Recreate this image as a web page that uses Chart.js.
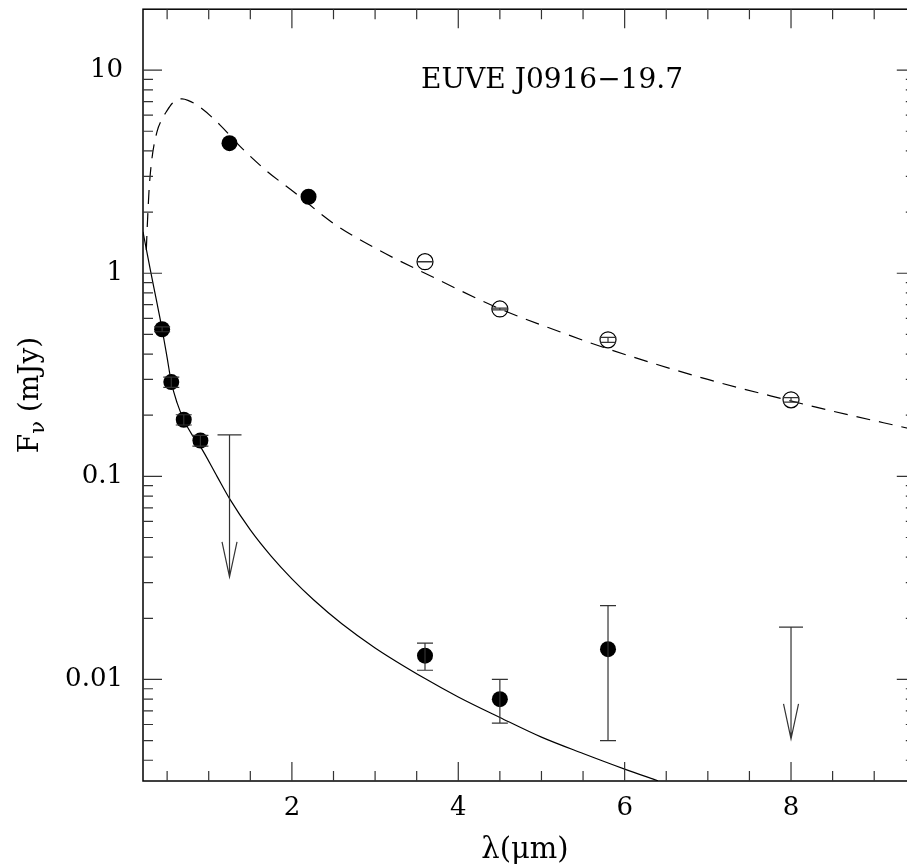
<!DOCTYPE html>
<html><head><meta charset="utf-8">
<script src="https://cdn.jsdelivr.net/npm/chart.js@4"></script>
<style>html,body{margin:0;padding:0;background:#fff;overflow:hidden}#wrap{width:907px;height:867px;overflow:hidden;position:relative}canvas{display:block}</style>
</head><body><div id="wrap"><canvas id="c" width="925" height="867"></canvas></div>
<script>
// ---- axis ticks ----
const xTickValues = [2, 4, 6, 8];
const xTickLabels = ['2', '4', '6', '8'];
const yTickValues = [0.01, 0.1, 1, 10];
const yTickLabels = ['0.01', '0.1', '1', '10'];

// ---- stellar photometry (filled circles, lower) ----
const starX = [0.44, 0.55, 0.70, 0.90, 3.6, 4.5, 5.8];
const starY = [0.53, 0.291, 0.190, 0.150, 0.0131, 0.0080, 0.0141];
const starErrLo = [0.515, 0.274, 0.179, 0.141, 0.0111, 0.0061, 0.0050];
const starErrHi = [0.545, 0.308, 0.201, 0.159, 0.0151, 0.0100, 0.0231];

// ---- upper limits (arrows) ----
const limX = [1.25, 8.0];
const limTop = [0.160, 0.0181];
const limTip = [0.032, 0.0051];

// ---- companion photometry (filled circles, upper) ----
const compX = [1.25, 2.2];
const compY = [4.37, 2.38];

// ---- IRAC photometry (open circles, upper) ----
const iracX = [3.6, 4.5, 5.8, 8.0];
const iracY = [1.14, 0.667, 0.470, 0.238];
const iracErrLo = [1.138, 0.660, 0.457, 0.232];
const iracErrHi = [1.142, 0.674, 0.483, 0.244];

// ---- solid model curve (photosphere) ----
const photX = [0.21, 0.30, 0.37, 0.44, 0.50, 0.55, 0.62, 0.70, 0.80, 0.90, 1.10, 1.256, 1.50, 1.75, 2.00, 2.26, 2.60, 3.00, 3.60, 4.00, 4.50, 5.00, 5.50, 6.00, 6.40];
const photY = [1.60, 1.03, 0.741, 0.530, 0.384, 0.291, 0.230, 0.190, 0.160, 0.140, 0.100, 0.0770, 0.0545, 0.0405, 0.0313, 0.0247, 0.0188, 0.0143, 0.0101, 0.0082, 0.0065, 0.0052, 0.00432, 0.00362, 0.00317];

// ---- dashed model curve ----
const bbX = [0.25, 0.257, 0.269, 0.284, 0.317, 0.377, 0.44, 0.497, 0.56, 0.62, 0.68, 0.75, 0.90, 1.14, 1.38, 1.70, 2.02, 2.50, 3.06, 3.60, 4.50, 5.22, 5.80, 7.00, 8.00, 8.30, 9.50];
const bbY = [1.30, 1.55, 1.99, 2.61, 3.66, 4.95, 5.75, 6.30, 6.85, 7.15, 7.22, 7.10, 6.55, 5.35, 4.20, 3.18, 2.52, 1.76, 1.29, 1.00, 0.668, 0.515, 0.424, 0.300, 0.235, 0.219, 0.169];

const titleText = 'EUVE J0916\u221219.7';
const xTitle = '\u03bb(\u03bcm)';

const FONT = '"DejaVu Serif", "Liberation Serif", serif';
const zip = (xs, ys) => xs.map((x, i) => ({x: x, y: ys[i]}));

const decorPlugin = {
  id: 'decor',
  afterDatasetsDraw(chart) {
    const ctx = chart.ctx, xs = chart.scales.x, ys = chart.scales.y;
    ctx.save();
    ctx.strokeStyle = '#333'; ctx.lineWidth = 1.2;
    const bar = (x, lo, hi, cw) => {
      const px = xs.getPixelForValue(x), p1 = ys.getPixelForValue(lo), p2 = ys.getPixelForValue(hi);
      ctx.beginPath();
      ctx.moveTo(px, p1); ctx.lineTo(px, p2);
      ctx.moveTo(px - cw, p1); ctx.lineTo(px + cw, p1);
      ctx.moveTo(px - cw, p2); ctx.lineTo(px + cw, p2);
      ctx.stroke();
    };
    starX.forEach((x, i) => bar(x, starErrLo[i], starErrHi[i], 8));
    iracX.forEach((x, i) => bar(x, iracErrLo[i], iracErrHi[i], 8));
    limX.forEach((x, i) => {
      const px = xs.getPixelForValue(x), pt = ys.getPixelForValue(limTop[i]), pa = ys.getPixelForValue(limTip[i]);
      ctx.beginPath();
      ctx.moveTo(px - 12, pt); ctx.lineTo(px + 12, pt);
      ctx.moveTo(px, pt); ctx.lineTo(px, pa);
      ctx.moveTo(px - 7.5, pa - 35); ctx.lineTo(px, pa); ctx.lineTo(px + 7.5, pa - 35);
      ctx.stroke();
    });
    ctx.restore();
  },
  afterDraw(chart) {
    const ctx = chart.ctx, xs = chart.scales.x, ys = chart.scales.y, a = chart.chartArea;
    ctx.save();
    ctx.strokeStyle = '#000'; ctx.lineWidth = 1.5;
    ctx.strokeRect(a.left, a.top, a.right - a.left, a.bottom - a.top);
    ctx.strokeStyle = '#333'; ctx.lineWidth = 1.2;
    ctx.beginPath();
    for (let v = 0.5; v <= 9.5; v += 0.5) {
      const px = xs.getPixelForValue(v);
      if (px < a.left + 1 || px > a.right - 1) continue;
      const len = (Math.abs(v / 2 - Math.round(v / 2)) < 1e-6) ? 19 : 10;
      ctx.moveTo(px, a.bottom); ctx.lineTo(px, a.bottom - len);
      ctx.moveTo(px, a.top); ctx.lineTo(px, a.top + len);
    }
    for (let e = -3; e <= 1; e++) {
      for (let m = 1; m <= 9; m++) {
        const v = m * Math.pow(10, e);
        const py = ys.getPixelForValue(v);
        if (py < a.top + 1 || py > a.bottom - 1) continue;
        const len = m === 1 ? 19 : 10;
        ctx.moveTo(a.left, py); ctx.lineTo(a.left + len, py);
        ctx.moveTo(a.right, py); ctx.lineTo(a.right - len, py);
      }
    }
    ctx.stroke();
    ctx.fillStyle = '#000';
    ctx.font = '28px ' + FONT;
    ctx.textAlign = 'center'; ctx.textBaseline = 'alphabetic';
    ctx.fillText(titleText, 552, 88);
    ctx.font = '29px ' + FONT;
    ctx.fillText(xTitle, 525, 858);
    ctx.translate(38, 395);
    ctx.rotate(-Math.PI / 2);
    ctx.textAlign = 'left';
    const parts = [['F', 28, 0], ['\u03bd', 21, 6], [' (mJy)', 28, 0]];
    let total = 0;
    parts.forEach(p => { ctx.font = p[1] + 'px ' + FONT; total += ctx.measureText(p[0]).width; });
    let cx = -total / 2;
    parts.forEach(p => { ctx.font = p[1] + 'px ' + FONT; ctx.fillText(p[0], cx, p[2]); cx += ctx.measureText(p[0]).width; });
    ctx.restore();
  }
};

new Chart(document.getElementById('c'), {
  type: 'scatter',
  data: {
    datasets: [
      { type: 'line', data: zip(photX, photY), borderColor: '#000', borderWidth: 1.2, pointRadius: 0, fill: false, cubicInterpolationMode: 'monotone' },
      { type: 'line', data: zip(bbX, bbY), borderColor: '#000', borderWidth: 1.2, borderDash: [14, 9], pointRadius: 0, fill: false, cubicInterpolationMode: 'monotone' },
      { data: zip(starX, starY), pointRadius: 8, pointBackgroundColor: '#000', pointBorderColor: '#000', pointBorderWidth: 0 },
      { data: zip(compX, compY), pointRadius: 8, pointBackgroundColor: '#000', pointBorderColor: '#000', pointBorderWidth: 0 },
      { data: zip(iracX, iracY), pointRadius: 8, pointBackgroundColor: 'rgba(0,0,0,0)', pointBorderColor: '#000', pointBorderWidth: 1.2 }
    ]
  },
  options: {
    responsive: false,
    animation: false,
    events: [],
    layout: { padding: { top: 6, right: 8, left: 0, bottom: 0 } },
    plugins: { legend: { display: false }, tooltip: { enabled: false }, title: { display: false } },
    scales: {
      x: {
        type: 'linear', min: 0.21, max: 9.5,
        grid: { display: false, drawTicks: false },
        border: { display: false },
        afterBuildTicks: s => { s.ticks = xTickValues.map(v => ({ value: v })); },
        afterFit: s => { s.height = 86; s.paddingLeft = 0; s.paddingRight = 0; },
        ticks: { color: '#000', font: { family: FONT, size: 26 }, padding: 12, maxRotation: 0, autoSkip: false,
          callback: v => { const i = xTickValues.indexOf(v); return i >= 0 ? xTickLabels[i] : ''; } }
      },
      y: {
        type: 'logarithmic', min: Math.pow(10, -2.5), max: Math.pow(10, 1.3),
        grid: { display: false, drawTicks: false },
        border: { display: false },
        afterBuildTicks: s => { s.ticks = yTickValues.map(v => ({ value: v })); },
        afterFit: s => { s.width = 143; s.paddingTop = 0; s.paddingBottom = 0; },
        ticks: { color: '#000', font: { family: FONT, size: 26 }, padding: 20, autoSkip: false,
          callback: v => { const i = yTickValues.indexOf(v); return i >= 0 ? yTickLabels[i] : ''; } }
      }
    }
  },
  plugins: [decorPlugin]
});
</script>
</body></html>
